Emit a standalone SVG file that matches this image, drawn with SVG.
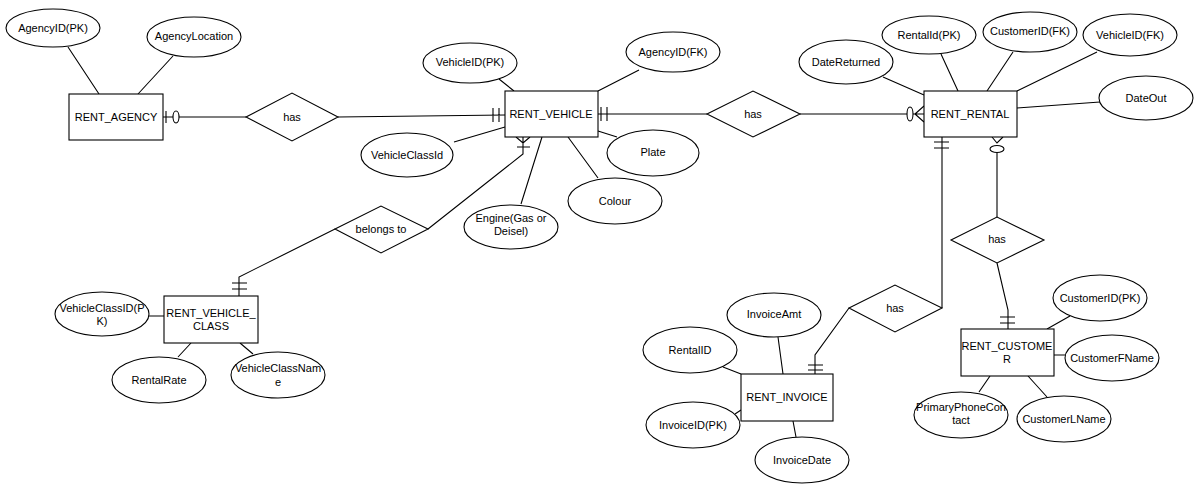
<svg xmlns="http://www.w3.org/2000/svg" width="1200" height="491" viewBox="0 0 1200 491">
<style>
.s{fill:#fff;stroke:#000;stroke-width:1.1}
.l{fill:none;stroke:#000;stroke-width:1.1}
text{font-family:"Liberation Sans",Arial,sans-serif;font-size:11px;fill:#000;text-anchor:middle}
</style>
<rect width="1200" height="491" fill="#fff"/>
<g id="connectors">
<path class="l" d="M163,117H246M338,117L505,115M166,111V123M493,108V122M499,108V122"/>
<ellipse class="s" cx="176" cy="117" rx="3" ry="6"/>
<path class="l" d="M598,114H707M800,114H924M601,107V121M607,107V121M915,114L924,106M915,114L924,122"/>
<ellipse class="s" cx="910" cy="114" rx="3" ry="7"/>
<path class="l" d="M516,137L523,143L530,137M523,137V154L428,229M517,147H530M335,229L239,277V296M232,283H247M232,289H247"/>
<path class="l" d="M942,137V308M934,142H949M934,148H949M849,308L815,355V374M808,365H823M808,370H823"/>
<path class="l" d="M992,137L997,143L1003,137M997,153V217M997,263L1008,310V329M1000,317H1015M1000,323H1015"/>
<ellipse class="s" cx="997" cy="149" rx="7" ry="3.5"/>
<path class="l" d="M68,47L99,94M173,56L138,94"/>
<path class="l" d="M499,79L514,91M639,70L598,91M454,142L505,127M598,131L617,137M568,137L598,178M542,137L521,204"/>
<path class="l" d="M883,77L924,95M941,54L958,91M1013,52L987,91M1097,52L1017,91M1100,102L1017,108"/>
<path class="l" d="M149,316H164M178,357L191,343M240,343L253,354"/>
<path class="l" d="M778,337L783,374M723,367L741,374M735,414L741,410M793,421L796,437"/>
<path class="l" d="M1047,329L1070,316M1054,355H1066M1028,376L1047,397M990,376L979,392"/>
</g>
<g id="rent_agency"><rect class="s" x="69" y="94" width="94" height="46"/><text x="116" y="121">RENT_AGENCY</text></g>
<g id="agencyid_pk"><ellipse class="s" cx="53" cy="28" rx="47" ry="19"/><text x="53" y="32">AgencyID(PK)</text></g>
<g id="agencylocation"><ellipse class="s" cx="194" cy="37" rx="47" ry="20"/><text x="194" y="40">AgencyLocation</text></g>
<g id="has_agency"><polygon class="s" points="246,117 292,93 338,117 292,141"/><text x="292" y="121">has</text></g>
<g id="rent_vehicle"><rect class="s" x="505" y="91" width="93" height="46"/><text x="551" y="118">RENT_VEHICLE</text></g>
<g id="vehicleid_pk"><ellipse class="s" cx="470" cy="63" rx="47" ry="20"/><text x="470" y="66">VehicleID(PK)</text></g>
<g id="agencyid_fk"><ellipse class="s" cx="673" cy="52" rx="47" ry="20"/><text x="673" y="56">AgencyID(FK)</text></g>
<g id="vehicleclassid"><ellipse class="s" cx="407" cy="155" rx="46" ry="22"/><text x="407" y="159">VehicleClassId</text></g>
<g id="plate"><ellipse class="s" cx="653" cy="153" rx="46" ry="23"/><text x="653" y="156">Plate</text></g>
<g id="colour"><ellipse class="s" cx="615" cy="201" rx="47" ry="23"/><text x="615" y="205">Colour</text></g>
<g id="engine"><ellipse class="s" cx="511" cy="227" rx="47" ry="22"/><text x="511" y="222">Engine(Gas or</text><text x="511" y="235">Deisel)</text></g>
<g id="has_rental"><polygon class="s" points="707,114 753,91 800,114 753,137"/><text x="753" y="118">has</text></g>
<g id="rent_rental"><rect class="s" x="924" y="91" width="93" height="46"/><text x="970" y="118">RENT_RENTAL</text></g>
<g id="datereturned"><ellipse class="s" cx="846" cy="62" rx="47" ry="22"/><text x="846" y="66">DateReturned</text></g>
<g id="rentalid_pk"><ellipse class="s" cx="929" cy="35" rx="47" ry="19"/><text x="929" y="39">RentalId(PK)</text></g>
<g id="customerid_fk"><ellipse class="s" cx="1030" cy="32" rx="47" ry="20"/><text x="1030" y="35">CustomerID(FK)</text></g>
<g id="vehicleid_fk"><ellipse class="s" cx="1130" cy="35" rx="47" ry="21"/><text x="1130" y="39">VehicleID(FK)</text></g>
<g id="dateout"><ellipse class="s" cx="1146" cy="98" rx="47" ry="22"/><text x="1146" y="102">DateOut</text></g>
<g id="belongs_to"><polygon class="s" points="335,229 381,206 428,229 381,253"/><text x="381" y="233">belongs to</text></g>
<g id="rent_vehicle_class"><rect class="s" x="164" y="296" width="94" height="47"/><text x="211" y="317">RENT_VEHICLE_</text><text x="211" y="330">CLASS</text></g>
<g id="vehicleclassid_pk"><ellipse class="s" cx="102" cy="314" rx="47" ry="22"/><text x="102" y="312">VehicleClassID(P</text><text x="102" y="325">K)</text></g>
<g id="rentalrate"><ellipse class="s" cx="159" cy="380" rx="47" ry="23"/><text x="159" y="384">RentalRate</text></g>
<g id="vehicleclassname"><ellipse class="s" cx="278" cy="375" rx="47" ry="23"/><text x="278" y="372">VehicleClassNam</text><text x="278" y="386">e</text></g>
<g id="has_invoice"><polygon class="s" points="849,308 895,285 942,308 895,332"/><text x="895" y="312">has</text></g>
<g id="rent_invoice"><rect class="s" x="741" y="374" width="92" height="47"/><text x="787" y="401">RENT_INVOICE</text></g>
<g id="invoiceamt"><ellipse class="s" cx="774" cy="315" rx="47" ry="22"/><text x="774" y="318">InvoiceAmt</text></g>
<g id="rentalid"><ellipse class="s" cx="690" cy="350" rx="47" ry="23"/><text x="690" y="354">RentalID</text></g>
<g id="invoiceid_pk"><ellipse class="s" cx="693" cy="425" rx="47" ry="23"/><text x="693" y="429">InvoiceID(PK)</text></g>
<g id="invoicedate"><ellipse class="s" cx="802" cy="460" rx="47" ry="23"/><text x="802" y="464">InvoiceDate</text></g>
<g id="has_customer"><polygon class="s" points="951,240 997,217 1044,240 997,263"/><text x="997" y="243">has</text></g>
<g id="rent_customer"><rect class="s" x="961" y="329" width="93" height="47"/><text x="1007" y="350">RENT_CUSTOME</text><text x="1007" y="363">R</text></g>
<g id="customerid_pk"><ellipse class="s" cx="1100" cy="298" rx="47" ry="23"/><text x="1100" y="302">CustomerID(PK)</text></g>
<g id="customerfname"><ellipse class="s" cx="1112" cy="358" rx="47" ry="23"/><text x="1112" y="362">CustomerFName</text></g>
<g id="customerlname"><ellipse class="s" cx="1064" cy="419" rx="47" ry="23"/><text x="1064" y="423">CustomerLName</text></g>
<g id="primaryphonecontact"><ellipse class="s" cx="961" cy="415" rx="47" ry="23"/><text x="961" y="411">PrimaryPhoneCon</text><text x="961" y="424">tact</text></g>
</svg>
